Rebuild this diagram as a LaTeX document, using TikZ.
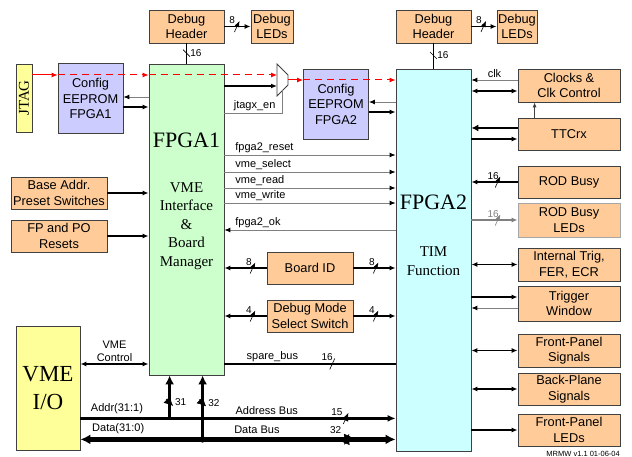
\documentclass[tikz,border=0pt]{standalone}
\usepackage{fontspec}
\setmainfont{Liberation Sans}
\newfontfamily\tmfont{Liberation Serif}
\usetikzlibrary{positioning,arrows.meta,calc}

\definecolor{peach}{HTML}{FFCC99}
\definecolor{mint}{HTML}{CCFFCC}
\definecolor{aqua}{HTML}{CCFFFF}
\definecolor{lilac}{HTML}{CCCCFF}
\definecolor{lemon}{HTML}{FFFF99}
\definecolor{edge}{HTML}{404040}
\definecolor{wire}{HTML}{808080}

\tikzset{
  slashmark/.pic={\draw[line width=0.6pt] (-2.5,5.5) -- (2.5,-5.5);},
  vslashmark/.pic={\draw[line width=0.6pt] (-3.5,-3.5) -- (3.5,3.5);}
}

\begin{document}
\begin{tikzpicture}[x=1pt, y=-1pt, font=\fontsize{12.8}{15.5}\selectfont,
  box/.style={draw=edge, line width=0.8pt, fill=peach, align=center, inner sep=1pt},
  hdr/.style={box, minimum width=75, minimum height=33},
  leds/.style={box, minimum width=42, minimum height=33},
  rbox/.style={box, minimum width=102, minimum height=33},
  lbox/.style={box, minimum width=96, minimum height=32},
  mbox/.style={box, minimum width=86, minimum height=32},
  cfg/.style={box, fill=lilac, minimum width=65, minimum height=70},
  fpga/.style={draw=edge, line width=0.8pt, minimum width=75, inner sep=0},
  title/.style={font=\tmfont\fontsize{22}{26}\selectfont},
  role/.style={font=\tmfont\fontsize{15}{18.5}\selectfont, align=center},
  lab/.style={font=\fontsize{11}{13}\selectfont, inner sep=1.5pt},
  num/.style={font=\fontsize{10}{12}\selectfont, inner sep=1pt},
  arrowhd/.style={-{Latex[length=6pt,width=5pt]}},
  sig/.style={draw=black, line width=1.2pt, arrowhd},
  dsig/.style={draw=black, line width=1.2pt, {Latex[length=6pt,width=5pt]}-{Latex[length=6pt,width=5pt]}},
  gsig/.style={draw=wire, line width=0.9pt, -{Latex[length=6pt,width=5pt,black]}},
  jtagline/.style={draw=red, line width=1pt, -{Latex[length=6pt,width=5pt]}},
  jdash/.style={jtagline, dash pattern=on 7pt off 5pt},
  bus/.style={draw=black, line width=3.5pt},
  bustip/.style={-{Latex[length=9pt,width=9pt]}}]

\path[fill=white, use as bounding box] (0,0) rectangle (632,457);

% left side
\node[box, fill=lemon, minimum width=16, minimum height=68, inner sep=0,
  font=\tmfont\fontsize{15}{18}\selectfont] (jtag) at (24,98) {\rotatebox{90}{JTAG}};
\node[cfg] (cfgA) at (90.5,98.5) {Config\\EEPROM\\FPGA1};
\node[lbox] (base) at (59,193) {Base Addr.\\Preset Switches};
\node[lbox] (resets) at (59,236) {FP and PO\\Resets};
\node[box, fill=lemon, minimum width=64, minimum height=124,
  font=\tmfont\fontsize{23}{28}\selectfont] (vme) at (48,388) {VME\\I/O};

% FPGA1 and its debug header
\node[hdr] (dbgA) at (186.5,26.5) {Debug\\Header};
\node[leds] (ledA) at (272,26.5) {Debug\\LEDs};
\node[fpga, fill=mint, minimum height=311] (fpgaA) at (186.5,219.5) {};
\node[title] (fpgaAname) at (186.5,140) {FPGA1};
\node[role] (fpgaArole) at (186.5,226) {VME\\Interface\\\&\\Board\\Manager};

% middle
\node[minimum width=11, minimum height=32, inner sep=0, outer sep=0] (mux) at (282.5,80) {};
\draw[draw=edge, fill=white, line width=0.8pt] (mux.north west) -- ($(mux.east)+(0,-5)$)
  -- ($(mux.east)+(0,5)$) -- (mux.south west) -- cycle;
\coordinate (muxsel) at ($(mux.south)+(0,-6)$);
\node[cfg] (cfgB) at (336,104) {Config\\EEPROM\\FPGA2};
\node[mbox] (boardid) at (310,268) {Board ID};
\node[mbox] (dbgsw) at (310,316) {Debug Mode\\Select Switch};

% FPGA2 and its debug header
\node[hdr] (dbgB) at (433.5,26.5) {Debug\\Header};
\node[leds, minimum width=40] (ledB) at (517,26.5) {Debug\\LEDs};
\node[fpga, fill=aqua, minimum height=382] (fpgaB) at (433.5,260) {};
\node[title] (fpgaBname) at (433.5,202) {FPGA2};
\node[role] (fpgaBrole) at (433.5,261) {TIM\\Function};

% right side
\node[rbox] (clk) at (569,85.5) {Clocks \&\\Clk Control};
\node[rbox, minimum height=32] (ttc) at (569,134) {TTCrx};
\node[rbox, minimum height=32] (rodb) at (569,182) {ROD Busy};
\node[rbox, draw=wire!70, minimum height=34] (rodl) at (569,220) {ROD Busy\\LEDs};
\node[rbox] (itrig) at (569,264.5) {Internal Trig,\\FER, ECR};
\node[rbox, minimum height=35] (trigw) at (569,303.5) {Trigger\\Window};
\node[rbox] (fps) at (569,350.5) {Front-Panel\\Signals};
\node[rbox, minimum height=32] (bps) at (569,389) {Back-Plane\\Signals};
\node[rbox, minimum height=32] (fpl) at (569,430) {Front-Panel\\LEDs};
\node[font=\fontsize{7.5}{9}\selectfont, anchor=east, inner sep=0] (ver) at (620,454) {MRMW v1.1 01-06-04};

% JTAG chain
\draw[jtagline] (jtag.east |- 0,75) -- (cfgA.west |- 0,75);
\draw[jdash] (cfgA.west |- 0,75) -- (fpgaA.west |- 0,75);
\draw[jdash] (fpgaA.west |- 0,75) -- (mux.west |- 0,75);
\draw[jtagline] (mux.east) -- (cfgB.west |- mux.east);
\draw[jdash] (cfgB.west |- mux.east) -- (fpgaB.west |- mux.east);
\draw[sig] (fpgaA.east |- 0,86) -- (mux.west |- 0,86);
\draw[draw=wire, line width=0.9pt] (fpgaA.east |- 0,113) -| (muxsel)
  node[lab, pos=.26, above] {jtagx\_en};

% config proms
\draw[gsig] (fpgaA.west |- 0,97) -- (cfgA.east |- 0,97);
\draw[sig] (cfgA.east |- 0,107) -- (fpgaA.west |- 0,107);
\draw[gsig] (fpgaB.west |- 0,102) -- (cfgB.east |- 0,102);
\draw[sig] (cfgB.east |- 0,112) -- (fpgaB.west |- 0,112);

% debug headers
\draw[sig, line width=1.6pt] (dbgA) -- (ledA) pic[pos=.48]{slashmark} node[num, pos=.3, above=1pt] {8};
\draw[line width=1.6pt] (dbgA.south) -- (fpgaA.north -| dbgA.south)
  pic[pos=.48]{vslashmark} node[num, pos=.48, right=2pt] {16};
\draw[sig, line width=1.6pt] (dbgB) -- (ledB) pic[pos=.48]{slashmark} node[num, pos=.3, above=1pt] {8};
\draw[line width=1.6pt] (dbgB.south) -- (fpgaB.north -| dbgB.south)
  pic[pos=.48]{vslashmark} node[num, pos=.48, right=2pt] {16};

% left inputs
\draw[sig] (base.east) -- (fpgaA.west |- base.east);
\draw[sig] (resets.east) -- (fpgaA.west |- resets.east);

% FPGA1 to FPGA2 control
\foreach \yy/\txt in {155/fpga2\_reset, 172/vme\_select, 188/vme\_read, 203/vme\_write}
  \draw[gsig] (fpgaA.east |- 0,\yy) -- (fpgaB.west |- 0,\yy)
    node[lab, pos=0, above right, xshift=9pt] {\txt};
\draw[gsig] (fpgaB.west |- 0,230) -- (fpgaA.east |- 0,230)
  node[lab, pos=1, above right, xshift=9pt] {fpga2\_ok};

% board id and debug switch
\draw[sig] (boardid.west) -- (fpgaA.east |- boardid.west)
  pic[pos=.33]{slashmark} node[num, pos=.42, above=1pt] {8};
\draw[sig] (boardid.east) -- (fpgaB.west |- boardid.east)
  pic[pos=.53]{slashmark} node[num, pos=.44, above=1pt] {8};
\draw[sig] (dbgsw.west) -- (fpgaA.east |- dbgsw.west)
  pic[pos=.33]{slashmark} node[num, pos=.42, above=1pt] {4};
\draw[sig] (dbgsw.east) -- (fpgaB.west |- dbgsw.east)
  pic[pos=.53]{slashmark} node[num, pos=.44, above=1pt] {4};

% FPGA2 to right side
\draw[gsig] (clk.west |- 0,80) -- (fpgaB.east |- 0,80) node[lab, pos=.5, above] {clk};
\draw[dsig] (fpgaB.east |- 0,91) -- (clk.west |- 0,91);
\draw[draw=edge, line width=0.8pt, -{Latex[length=5pt,width=4pt]}]
  ($(ttc.north west)+(17,0)$) -- ($(clk.south west)+(17,0)$);
\draw[sig, line width=2.8pt, -{Latex[length=7pt,width=7pt]}] (ttc.west |- 0,128) -- (fpgaB.east |- 0,128);
\draw[sig] (fpgaB.east |- 0,139) -- (ttc.west |- 0,139);
\draw[sig, line width=1.6pt] (rodb.west) -- (fpgaB.east |- rodb.west)
  pic[pos=.43]{slashmark} node[num, pos=.53, above=1pt] {16};
\draw[draw=wire, line width=1.2pt, -{Latex[length=6pt,width=5pt]}] (fpgaB.east |- rodl.west) -- (rodl.west)
  pic[pos=.57, color=wire]{slashmark} node[num, text=wire, pos=.47, above=1pt] {16};
\draw[dsig] (fpgaB.east |- itrig.west) -- (itrig.west);
\draw[sig] (fpgaB.east |- 0,297) -- (trigw.west |- 0,297);
\draw[gsig] (trigw.west |- 0,308) -- (fpgaB.east |- 0,308);
\draw[dsig] (fpgaB.east |- fps.west) -- (fps.west);
\draw[dsig] (fpgaB.east |- bps.west) -- (bps.west);
\draw[sig] (fpgaB.east |- fpl.west) -- (fpl.west);

% VME side and buses
\draw[dsig] (vme.east |- 0,364) -- (fpgaA.west |- 0,364)
  node[lab, midway, above, align=center] {VME\\Control};
\draw[line width=2.2pt] (fpgaA.east |- 0,364) -- (fpgaB.west |- 0,364)
  node[lab, pos=.28, above] {spare\_bus}
  pic[pos=.63]{slashmark} node[num, pos=.6, above=1pt] {16};
\coordinate (addrj) at ($(fpgaA.south west)+(21,43)$);
\coordinate (datj) at ($(fpgaA.south west)+(54,64)$);
\draw[bus] (vme.east |- addrj) -- (addrj) node[lab, pos=.41, above=1pt] {Addr(31:1)};
\draw[bus, line width=3pt, bustip] (addrj) -- (addrj |- fpgaA.south)
  pic[pos=.37]{vslashmark} node[num, pos=.37, right=3pt] {31};
\draw[line width=2.4pt, -{Latex[length=8pt,width=7pt]}] (addrj) -- (fpgaB.west |- addrj)
  node[lab, pos=.43, above=1pt] {Address Bus}
  pic[pos=.78]{slashmark} node[num, pos=.74, above=1pt] {15};
\draw[bus, line width=5pt, {Latex[length=10pt,width=10pt]}-{Latex[length=10pt,width=10pt]}]
  (vme.east |- datj) -- (fpgaB.west |- datj)
  node[lab, pos=.12, above=2pt] {Data(31:0)}
  node[lab, pos=.56, above=2pt] {Data Bus}
  pic[pos=.845]{slashmark} node[num, pos=.81, above=2pt] {32};
\draw[bus, line width=3.5pt, bustip] (datj) -- (datj |- fpgaA.south)
  pic[pos=.57]{vslashmark} node[num, pos=.57, right=3pt] {32};
\fill (datj) circle (3.2);
\end{tikzpicture}
\end{document}
